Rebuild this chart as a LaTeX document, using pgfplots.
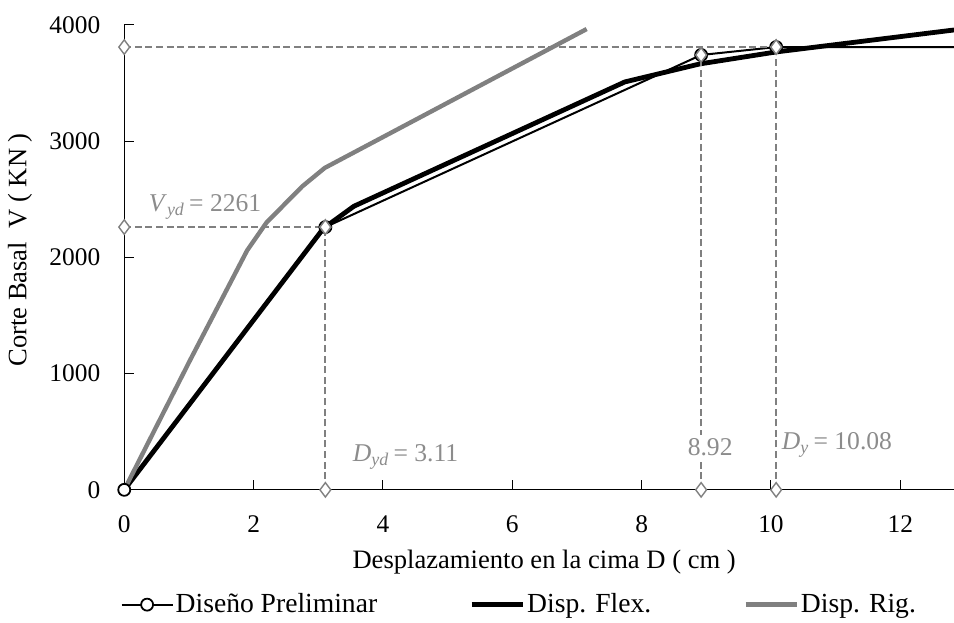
\documentclass[border=0pt]{standalone}
\usepackage{fontspec}
\setmainfont{Liberation Serif}
\usepackage{pgfplots}
\pgfplotsset{compat=1.18}
\usetikzlibrary{calc}
\definecolor{rig}{HTML}{808080}
\definecolor{guia}{HTML}{808080}
\definecolor{etiq}{HTML}{8C8C8C}

\begin{document}
\begin{tikzpicture}[font=\fontsize{12.7}{14}\selectfont]
\begin{axis}[
    scale only axis,
    width=415pt, height=232.5pt,
    xmin=0, xmax=12.83, ymin=0, ymax=4000,
    axis x line=bottom, axis y line=left,
    axis line style={-, line width=0.6pt},
    xtick={0,2,...,12}, ytick={0,1000,...,4000},
    scaled ticks=false,
    tick align=inside, major tick length=5pt,
    tick style={black, line width=0.5pt},
    /pgf/number format/assume math mode=true,
    /pgf/number format/1000 sep={},
    yticklabel style={xshift=-8.5pt},
    xticklabel style={yshift=-9.5pt},
    clip=false,
    xlabel={Desplazamiento en la cima D ( cm )},
    ylabel={Corte Basal\ \ V ( KN )},
    label style={font=\fontsize{13.3}{15}\selectfont},
    xlabel style={at={(axis description cs:0.506,-0.155)}, anchor=center},
    ylabel style={at={(axis description cs:-0.1257,0.516)}, anchor=center},
    legend columns=3,
    legend cell align=left,
    legend style={at={(0.476,-0.247)}, anchor=center, draw=none, fill=none,
        font=\fontsize{13.8}{15}\selectfont, nodes={inner xsep=1pt},
        /tikz/every even column/.append style={column sep=45pt}},
    legend image code/.code={\draw[mark=none]
        plot coordinates {(0cm,0cm) (0.45cm,0cm) (0.9cm,0cm)};},
]
\coordinate (sw) at (rel axis cs:0,0);
\coordinate (ne) at (rel axis cs:1,1);

% curvas
\addplot[black, line width=1pt, mark=*, mark size=3pt,
    mark options={fill=white, line width=0.9pt}, mark indices={1,2,3,4},
    legend image code/.code={\draw[mark=none] (0cm,0cm) -- (0.9cm,0cm);
        \draw[mark indices={1}] plot coordinates {(0.45cm,0cm)};}]
    coordinates {(0,0) (3.11,2261) (8.92,3742) (10.08,3810) (12.83,3810)};
\addplot[black, line width=2.4pt] coordinates {
    (0,0) (3.08,2250) (3.55,2440) (7.74,3510) (8.9,3665) (10.08,3768) (12.83,3957)};
\addplot[rig, line width=2.2pt] coordinates {
    (0,0) (1.02,1118) (1.9,2060) (2.2,2300) (2.75,2610) (3.1,2770) (7.15,3965)};
\legend{Diseño Preliminar, Disp. Flex., Disp. Rig.}

% lineas guia
\pgfplotsset{guide/.style={guia, line width=1pt, dash pattern=on 3.5pt off 1.8pt,
    mark=diamond*, mark size=3.6pt, mark options={solid, fill=white, line width=0.7pt},
    forget plot}}
\addplot[guide] coordinates {(0,3810) (10.08,3810)};
\addplot[guide] coordinates {(0,2261) (3.11,2261)};
\addplot[guide] coordinates {(3.11,0) (3.11,2261)};
\addplot[guide] coordinates {(8.92,0) (8.92,3742)};
\addplot[guide] coordinates {(10.08,0) (10.08,3810)};

\node[etiq, font=\fontsize{12.8}{14}\selectfont] at (axis cs:1.25,2434)
    {\textit{V}\textsubscript{\textit{yd}}\,= 2261};
\node[etiq, font=\fontsize{12.8}{14}\selectfont] at (axis cs:4.35,284)
    {\textit{D}\textsubscript{\textit{yd}}\,= 3.11};
\node[etiq, fill=white, inner sep=1.5pt, font=\fontsize{12.8}{14}\selectfont] at (axis cs:9.06,370)
    {8.92};
\node[etiq, font=\fontsize{12.8}{14}\selectfont] at (axis cs:11.02,387)
    {\textit{D}\textsubscript{\textit{y}}\,= 10.08};
\end{axis}
\pgfresetboundingbox
\path[use as bounding box] ($(sw)+(-62.15pt,-66.5pt)$) rectangle ($(ne)+(0pt,12.5pt)$);
\end{tikzpicture}
\end{document}
